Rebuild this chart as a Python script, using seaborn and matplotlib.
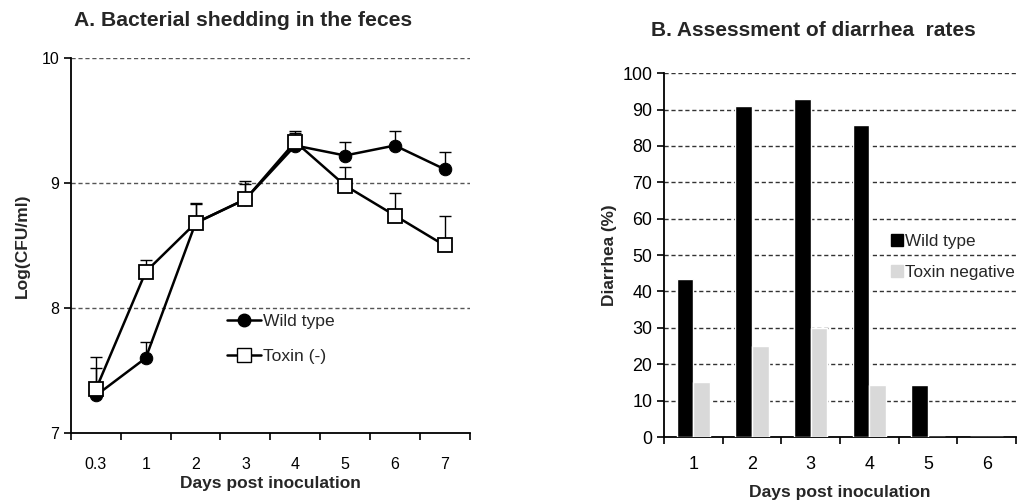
import pandas as pd
import seaborn as sns
import matplotlib.pyplot as plt
from matplotlib.lines import Line2D
from matplotlib.ticker import FixedLocator

# panel A data
days_a = ['0.3', '1', '2', '3', '4', '5', '6', '7']
wild_log = [7.30, 7.60, 8.68, 8.87, 9.30, 9.22, 9.30, 9.11]
wild_err = [0.22, 0.13, 0.16, 0.15, 0.12, 0.11, 0.12, 0.14]
toxin_log = [7.35, 8.29, 8.68, 8.87, 9.33, 8.98, 8.74, 8.50]
toxin_err = [0.26, 0.09, 0.15, 0.12, 0.07, 0.15, 0.18, 0.24]

# panel B data
days_b = ['1', '2', '3', '4', '5', '6']
wild_rate = [43.3, 91, 93, 85.7, 14.3, 0]
toxin_rate = [15, 25, 30, 14.3, 0, 0]

sns.set_theme(style='white')
plt.rcParams['font.family'] = ['Liberation Sans', 'DejaVu Sans']

fig = plt.figure(figsize=(10.22, 5.04), dpi=100)
ax1 = fig.add_axes([0.0695, 0.1409, 0.390, 0.744])
ax2 = fig.add_axes([0.6497, 0.1329, 0.3444, 0.722])

# ---- A ----
df_a = pd.DataFrame({'pos': list(range(len(days_a))) * 2,
                     'val': wild_log + toxin_log,
                     'grp': ['Wild type'] * len(days_a) + ['Toxin (-)'] * len(days_a)})
pos = list(range(len(days_a)))
ax1.errorbar(pos, wild_log, yerr=[[0] * len(pos), wild_err], fmt='none', ecolor='black',
             elinewidth=1, capsize=4, capthick=1, zorder=2)
ax1.errorbar(pos, toxin_log, yerr=[[0] * len(pos), toxin_err], fmt='none', ecolor='black',
             elinewidth=1, capsize=4, capthick=1, zorder=2)
sns.lineplot(data=df_a[df_a.grp == 'Wild type'], x='pos', y='val', color='black', marker='o',
             markersize=9, markerfacecolor='black', markeredgecolor='black', lw=1.8, ax=ax1,
             sort=False, zorder=3)
sns.lineplot(data=df_a[df_a.grp == 'Toxin (-)'], x='pos', y='val', color='black', marker='s',
             markersize=10, markerfacecolor='white', markeredgecolor='black', markeredgewidth=1.3,
             lw=1.8, ax=ax1, sort=False, zorder=4)
ax1.set_xlim(-0.5, len(days_a) - 0.5)
ax1.set_ylim(7, 10)
ax1.set_yticks([7, 8, 9, 10])
ax1.set_xticks(pos)
ax1.set_xticklabels(days_a)
ax1.xaxis.set_minor_locator(FixedLocator([p - 0.5 for p in range(len(days_a) + 1)]))
ax1.tick_params(axis='x', which='major', length=0, pad=17, labelsize=11.5, colors='black')
ax1.tick_params(axis='x', which='minor', length=5, width=1.2, color='black', bottom=True)
ax1.tick_params(axis='y', length=5, width=1.2, color='black', left=True, labelsize=11.5, labelcolor='black')
for y in [8, 9, 10]:
    ax1.axhline(y, color='#555555', ls=(0, (3, 2)), lw=1, zorder=0)
for s in ['top', 'right']:
    ax1.spines[s].set_visible(False)
for s in ['left', 'bottom']:
    ax1.spines[s].set_color('black')
    ax1.spines[s].set_linewidth(1.3)
ax1.set_xlabel('Days post inoculation', fontsize=12.5, fontweight='bold', labelpad=3)
ax1.set_ylabel('Log(CFU/ml)', fontsize=12.5, fontweight='bold', labelpad=8)
h1 = [Line2D([], [], color='black', marker='o', markersize=9, lw=1.8),
      Line2D([], [], color='black', marker='s', markersize=10, markerfacecolor='white', lw=1.8)]
ax1.legend(h1, ['Wild type', 'Toxin (-)'], loc='upper left', bbox_to_anchor=(0.352, 0.36),
           frameon=False, fontsize=12.6, handlelength=1.95, handletextpad=0.1, labelspacing=1.15)

# ---- B ----
df_b = pd.DataFrame({'day': days_b * 2,
                     'rate': wild_rate + toxin_rate,
                     'grp': ['Wild type'] * len(days_b) + ['Toxin negative'] * len(days_b)})
sns.barplot(data=df_b, x='day', y='rate', hue='grp', palette=['black', '#d9d9d9'],
            width=0.57, gap=0, ax=ax2, legend=False, saturation=1, zorder=3)
ax2.set_xlim(-0.5, len(days_b) - 0.5)
ax2.set_ylim(0, 100)
ax2.set_yticks(range(0, 101, 10))
ax2.xaxis.set_minor_locator(FixedLocator([p - 0.5 for p in range(len(days_b) + 1)]))
ax2.tick_params(axis='x', which='major', length=0, pad=14, labelsize=12.9, colors='black')
ax2.tick_params(axis='x', which='minor', length=5, width=1.2, color='black', bottom=True)
ax2.tick_params(axis='y', length=5, width=1.2, color='black', left=True, labelsize=12.9, labelcolor='black')
for y in range(10, 101, 10):
    ax2.axhline(y, color='#333333', ls=(0, (3, 2)), lw=1, zorder=0)
for s in ['top', 'right']:
    ax2.spines[s].set_visible(False)
for s in ['left', 'bottom']:
    ax2.spines[s].set_color('black')
    ax2.spines[s].set_linewidth(1.3)
ax2.set_xlabel('Days post inoculation', fontsize=12.6, fontweight='bold', labelpad=8)
ax2.set_ylabel('Diarrhea (%)', fontsize=12.4, fontweight='bold', labelpad=4)
h2 = [Line2D([], [], color='black', marker='s', markersize=9, lw=0),
      Line2D([], [], color='#d9d9d9', marker='s', markersize=9, lw=0)]
ax2.legend(h2, ['Wild type', 'Toxin negative'], loc='upper left', bbox_to_anchor=(0.60, 0.60),
           frameon=False, fontsize=12.3, handlelength=0.7, handletextpad=0.15, labelspacing=0.95)

fig.text(243 / 1022, 1 - 20 / 504, 'A. Bacterial shedding in the feces', ha='center', va='center',
         fontsize=15.2, fontweight='bold')
fig.text(813 / 1022, 1 - 31 / 504, 'B. Assessment of diarrhea  rates', ha='center', va='center',
         fontsize=15, fontweight='bold')

plt.savefig('out.png', dpi=100)
